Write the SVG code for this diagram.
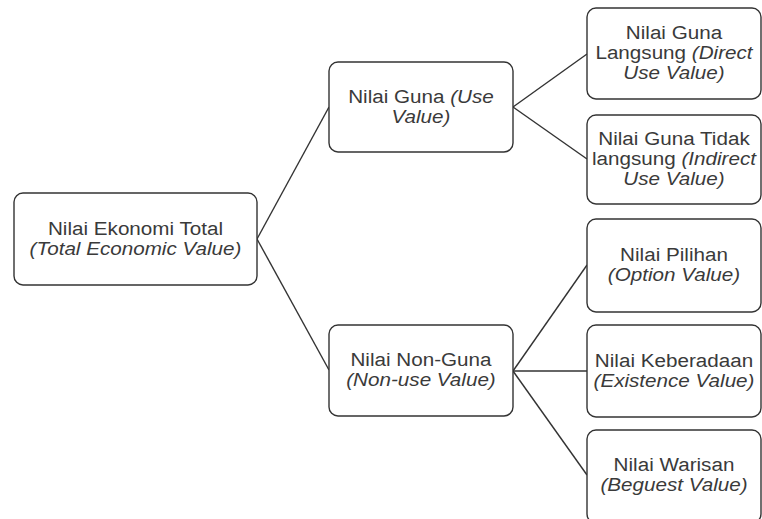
<svg xmlns="http://www.w3.org/2000/svg" width="762" height="519" viewBox="0 0 762 519">
<style>
.box{fill:#fff;stroke:#333;stroke-width:1.4}
.lbl{font-family:"Liberation Sans",Arial,sans-serif;font-size:17.8px;fill:#3a3a3a;text-anchor:middle}
.it{font-style:italic}
.conn line{stroke:#333;stroke-width:1.4}
</style>
<rect width="762" height="519" fill="#fff"/>
<g class="conn" id="connectors">
<line x1="257" y1="239" x2="329" y2="107"/>
<line x1="257" y1="239" x2="329" y2="370"/>
<line x1="513" y1="107" x2="587" y2="54"/>
<line x1="513" y1="107" x2="587" y2="159"/>
<line x1="513" y1="371" x2="587" y2="265"/>
<line x1="513" y1="371" x2="587" y2="371"/>
<line x1="513" y1="371" x2="587" y2="475"/>
</g>
<g id="root">
<rect class="box" x="14" y="193" width="243" height="92" rx="9"/>
<g transform="matrix(1.16 0 0 1 -21.68 0)">
<text class="lbl" x="135.5" y="235.5">Nilai Ekonomi Total</text>
<text class="lbl it" x="135.5" y="255.5">(Total Economic Value)</text>
</g>
</g>
<g id="guna">
<rect class="box" x="329" y="62" width="184" height="90" rx="9"/>
<g transform="matrix(1.16 0 0 1 -67.36 0)">
<text class="lbl" x="421" y="103.5">Nilai Guna <tspan class="it">(Use</tspan></text>
<text class="lbl it" x="421" y="123.5">Value)</text>
</g>
</g>
<g id="nonguna">
<rect class="box" x="329" y="325" width="184" height="91" rx="9"/>
<g transform="matrix(1.16 0 0 1 -67.36 0)">
<text class="lbl" x="421" y="366.5">Nilai Non-Guna</text>
<text class="lbl it" x="421" y="386.5">(Non-use Value)</text>
</g>
</g>
<g id="langsung">
<rect class="box" x="587" y="8" width="174" height="91" rx="9"/>
<g transform="matrix(1.16 0 0 1 -107.84 0)">
<text class="lbl" x="674" y="39.5">Nilai Guna</text>
<text class="lbl" x="674" y="59.5">Langsung <tspan class="it">(Direct</tspan></text>
<text class="lbl it" x="674" y="79.5">Use Value)</text>
</g>
</g>
<g id="tidaklangsung">
<rect class="box" x="587" y="115" width="174" height="89" rx="9"/>
<g transform="matrix(1.16 0 0 1 -107.84 0)">
<text class="lbl" x="674" y="145.5">Nilai Guna Tidak</text>
<text class="lbl" x="674" y="165.5">langsung <tspan class="it">(Indirect</tspan></text>
<text class="lbl it" x="674" y="185.5">Use Value)</text>
</g>
</g>
<g id="pilihan">
<rect class="box" x="587" y="219" width="174" height="93" rx="9"/>
<g transform="matrix(1.16 0 0 1 -107.84 0)">
<text class="lbl" x="674" y="261.5">Nilai Pilihan</text>
<text class="lbl it" x="674" y="281.5">(Option Value)</text>
</g>
</g>
<g id="keberadaan">
<rect class="box" x="587" y="325" width="174" height="92" rx="9"/>
<g transform="matrix(1.16 0 0 1 -107.84 0)">
<text class="lbl" x="674" y="367.5">Nilai Keberadaan</text>
<text class="lbl it" x="674" y="387.5">(Existence Value)</text>
</g>
</g>
<g id="warisan">
<rect class="box" x="587" y="430" width="174" height="93" rx="9"/>
<g transform="matrix(1.16 0 0 1 -107.84 0)">
<text class="lbl" x="674" y="471.5">Nilai Warisan</text>
<text class="lbl it" x="674" y="491.5">(Beguest Value)</text>
</g>
</g>
</svg>
